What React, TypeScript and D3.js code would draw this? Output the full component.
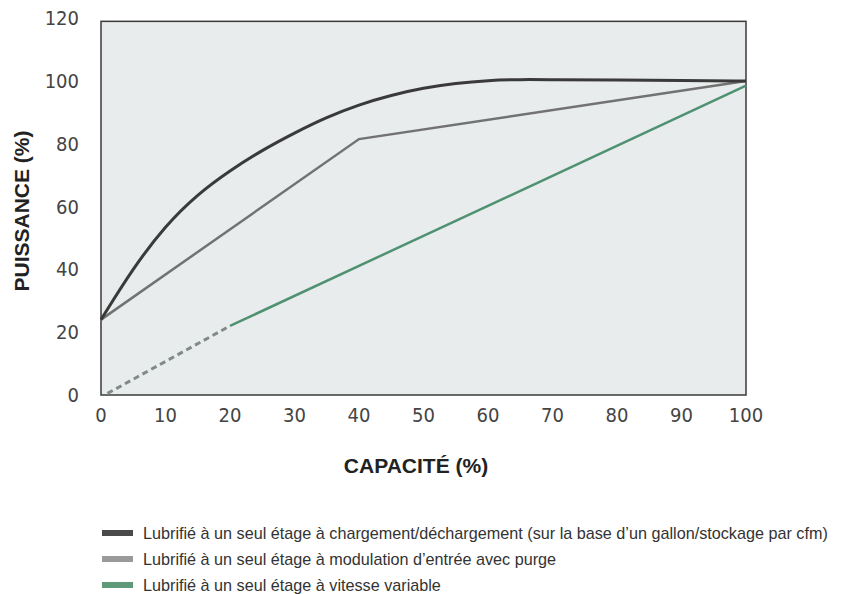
import { useEffect, useRef } from 'react';
import * as d3 from 'd3';

// capacity (%) / power (%)
const loadUnloadCurve: [number, number][] = [
  [0, 24], [5, 40.5], [10, 54], [15, 64], [20, 71.5], [25, 78], [30, 83.5], [35, 88.5],
  [40, 92.5], [45, 95.5], [50, 97.8], [55, 99.3], [60, 100.2], [65, 100.5], [70, 100.4],
  [80, 100.3], [90, 100.2], [100, 100]
];
const inletModulation: [number, number][] = [[0, 24], [40, 81.5], [100, 100]];
const variableSpeed: [number, number][] = [[20, 22], [100, 98.5]];
const variableSpeedDashed: [number, number][] = [[1, 0.5], [20, 22]];

const xTicks = [0, 10, 20, 30, 40, 50, 60, 70, 80, 90, 100];
const yTicks = [0, 20, 40, 60, 80, 100, 120];

const legendLabels = [
  'Lubrifié à un seul étage à chargement/déchargement (sur la base d’un gallon/stockage par cfm)',
  'Lubrifié à un seul étage à modulation d’entrée avec purge',
  'Lubrifié à un seul étage à vitesse variable'
];
const legendColors = ['#4a4a4a', '#9a9a9a', '#5f9a78'];

export default function App() {
  const svgRef = useRef<SVGSVGElement>(null);

  useEffect(() => {
    if (!svgRef.current) return;
    const svg = d3.select(svgRef.current);
    svg.selectAll('*').remove();

    const x = d3.scaleLinear().domain([0, 100]).range([101, 746]);
    const y = d3.scaleLinear().domain([0, 100]).range([395, 81]);

    const tickFont = '"Liberation Sans Narrow", "DejaVu Sans Condensed", "Liberation Sans", Arial, sans-serif';

    // plot area
    svg.append('rect')
      .attr('x', x(0))
      .attr('y', y(119))
      .attr('width', x(100) - x(0))
      .attr('height', y(0) - y(119))
      .attr('fill', '#e9ecec')
      .attr('stroke', '#3a3a3a')
      .attr('stroke-width', 1.5);

    // y labels
    svg.append('g')
      .selectAll('text')
      .data(yTicks)
      .enter()
      .append('text')
      .attr('x', 79)
      .attr('y', (d) => y(d))
      .attr('dy', '0.35em')
      .attr('text-anchor', 'end')
      .attr('font-family', tickFont)
      .attr('font-size', '20px')
      .attr('font-weight', 300)
      .attr('fill', '#444')
      .text((d) => d);

    // x labels
    svg.append('g')
      .selectAll('text')
      .data(xTicks)
      .enter()
      .append('text')
      .attr('x', (d) => x(d))
      .attr('y', 422)
      .attr('text-anchor', 'middle')
      .attr('font-family', tickFont)
      .attr('font-size', '20px')
      .attr('font-weight', 300)
      .attr('fill', '#444')
      .text((d) => d);

    const line = d3.line<[number, number]>()
      .x((d) => x(d[0]))
      .y((d) => y(d[1]));

    svg.append('path')
      .datum(variableSpeedDashed)
      .attr('d', line)
      .attr('fill', 'none')
      .attr('stroke', '#808a86')
      .attr('stroke-width', 3)
      .attr('stroke-dasharray', '6,4');

    svg.append('path')
      .datum(variableSpeed)
      .attr('d', line)
      .attr('fill', 'none')
      .attr('stroke', '#4f9273')
      .attr('stroke-width', 2.5);

    svg.append('path')
      .datum(inletModulation)
      .attr('d', line)
      .attr('fill', 'none')
      .attr('stroke', '#727272')
      .attr('stroke-width', 2.5);

    svg.append('path')
      .datum(loadUnloadCurve)
      .attr('d', d3.line<[number, number]>()
        .x((d) => x(d[0]))
        .y((d) => y(d[1]))
        .curve(d3.curveBasis))
      .attr('fill', 'none')
      .attr('stroke', '#3a3a3a')
      .attr('stroke-width', 3);

    // axis titles
    svg.append('text')
      .attr('transform', 'translate(29,211) rotate(-90)')
      .attr('text-anchor', 'middle')
      .attr('font-family', 'Liberation Sans, Arial, sans-serif')
      .attr('font-weight', 'bold')
      .attr('font-size', '21px')
      .attr('fill', '#222')
      .text('PUISSANCE (%)');

    svg.append('text')
      .attr('x', 416)
      .attr('y', 473)
      .attr('text-anchor', 'middle')
      .attr('font-family', 'Liberation Sans, Arial, sans-serif')
      .attr('font-weight', 'bold')
      .attr('font-size', '21px')
      .attr('fill', '#222')
      .text('CAPACITÉ (%)');

    // legend
    const legend = svg.append('g');
    legendLabels.forEach((label, i) => {
      const ly = 533 + i * 26;
      legend.append('rect')
        .attr('x', 102)
        .attr('y', ly - 3)
        .attr('width', 31)
        .attr('height', 6)
        .attr('fill', legendColors[i]);
      legend.append('text')
        .attr('x', 143)
        .attr('y', ly)
        .attr('dy', '0.35em')
        .attr('font-family', 'Liberation Sans, Arial, sans-serif')
        .attr('font-size', '16.2px')
        .attr('fill', '#333')
        .text(label);
    });
  }, []);

  return (
    <svg
      ref={svgRef}
      width={841}
      height={594}
      style={{ position: 'absolute', left: 0, top: 0, background: '#fff' }}
    />
  );
}
